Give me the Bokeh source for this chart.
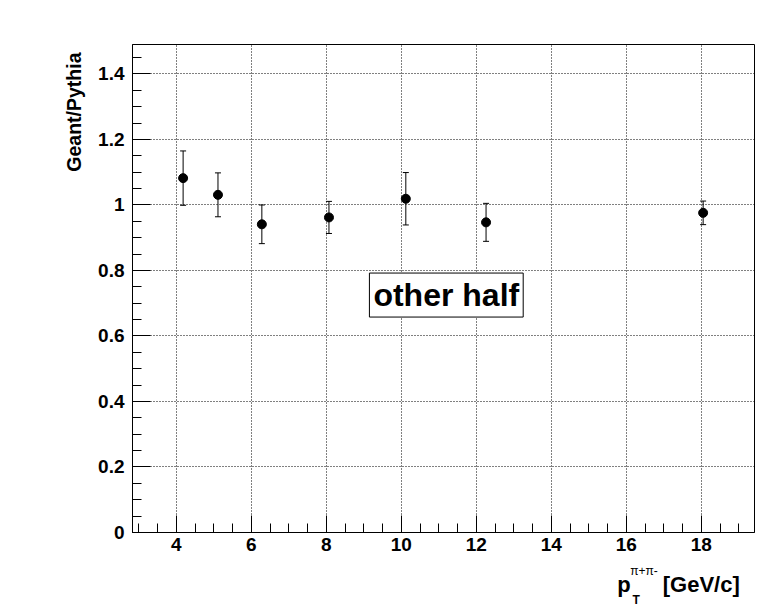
import numpy as np
from bokeh.plotting import figure
from bokeh.layouts import row, column
from bokeh.models import (Range1d, Label, Whisker, TeeHead, ColumnDataSource,
                          FixedTicker, PrintfTickFormatter)
from bokeh.core.properties import value
from bokeh.embed import file_html
from bokeh.resources import INLINE

# ---- data ----
pt = [4.18, 5.11, 6.28, 8.07, 10.12, 12.26, 18.05]
ratio = [1.082, 1.031, 0.941, 0.962, 1.019, 0.947, 0.976]
err = [0.083, 0.067, 0.059, 0.049, 0.080, 0.058, 0.036]

x_major = [4, 6, 8, 10, 12, 14, 16, 18]
y_major = [0, 0.2, 0.4, 0.6, 0.8, 1.0, 1.2, 1.4]

y_title = "Geant/Pythia"
x_title_main = "p"
x_title_sub = "T"
x_title_sup = "π+π-"
x_title_unit = "[GeV/c]"
box_text = "other half"

FONT = "Liberation Sans"

# ---- geometry (page pixels) ----
LEFT_W = 92
MAIN_W = 678
MAIN_H = 559
BOT_H = 47
TOTAL_H = MAIN_H + BOT_H

src = ColumnDataSource(dict(
    x=pt, y=ratio,
    lower=[r - e for r, e in zip(ratio, err)],
    upper=[r + e for r, e in zip(ratio, err)],
))

# ---- main plot ----
p = figure(frame_width=622, frame_height=488,
           min_border_left=132 - LEFT_W, min_border_right=16,
           min_border_top=44, min_border_bottom=MAIN_H - 44 - 488,
           x_range=Range1d(2.83, 19.42), y_range=Range1d(0, 1.49),
           output_backend="svg", toolbar_location=None)

p.background_fill_color = "white"
p.border_fill_color = "white"
p.outline_line_color = "black"
p.outline_line_width = 1

x_minor = list(np.arange(3.0, 19.01, 0.5))
y_minor = list(np.round(np.arange(0.0, 1.46, 0.05), 2))

p.xaxis.ticker = FixedTicker(ticks=x_major, minor_ticks=x_minor)
p.yaxis.ticker = FixedTicker(ticks=y_major, minor_ticks=y_minor)
p.yaxis.formatter = PrintfTickFormatter(format="%g")

for ax in (p.xaxis, p.yaxis):
    ax.axis_line_color = "black"
    ax.axis_line_width = 1
    ax.major_tick_line_color = "black"
    ax.minor_tick_line_color = "black"
    ax.major_tick_out = 0
    ax.minor_tick_out = 0
    ax.minor_tick_in = 9
    ax.major_label_text_font = FONT
    ax.major_label_text_font_style = "bold"
    ax.major_label_text_font_size = "19px"
    ax.major_label_text_color = "black"

p.xaxis.major_tick_in = 17
p.yaxis.major_tick_in = 18
p.xaxis.major_label_standoff = 5
p.yaxis.major_label_standoff = 8

for g in (p.xgrid, p.ygrid):
    g.grid_line_color = "black"
    g.grid_line_dash = "1 2"
    g.grid_line_width = 1
    g.grid_line_alpha = 1.0

wh = Whisker(base="x", lower="lower", upper="upper", source=src,
             line_color="black", line_width=1,
             upper_head=TeeHead(size=6, line_color="black", line_width=1),
             lower_head=TeeHead(size=6, line_color="black", line_width=1))
p.add_layout(wh)

p.scatter("x", "y", source=src, size=9, marker="circle",
          fill_color="black", line_color="black")

p.add_layout(Label(x=11.2, y=0.725, text=box_text,
                   text_font=FONT, text_font_style="bold",
                   text_font_size="32px", text_color="black",
                   text_align="center", text_baseline="middle",
                   border_line_color="black", border_line_width=1,
                   background_fill_color="white", padding=4))

# ---- left strip: y-axis title ----
left = figure(width=LEFT_W, height=TOTAL_H, min_border=0,
              x_range=Range1d(0, LEFT_W), y_range=Range1d(0, TOTAL_H),
              x_axis_location=None, y_axis_location=None,
              output_backend="svg", toolbar_location=None)
left.grid.visible = False
left.outline_line_color = None
left.text(x=[73], y=[TOTAL_H - 52], text=[y_title], angle=np.pi / 2,
          text_align="right", text_baseline="alphabetic",
          text_font=value(FONT), text_font_style="bold",
          text_font_size="19.5px", text_color="black")

# ---- bottom strip: x-axis title ----
bot = figure(width=MAIN_W, height=BOT_H, min_border=0,
             x_range=Range1d(LEFT_W, LEFT_W + MAIN_W), y_range=Range1d(0, BOT_H),
             x_axis_location=None, y_axis_location=None,
             output_backend="svg", toolbar_location=None)
bot.grid.visible = False
bot.outline_line_color = None


def by(yw):
    return TOTAL_H - yw


bot.text(x=[620.5], y=[by(583.5)], text=[x_title_main],
         text_align="left", text_baseline="alphabetic",
         text_font=value(FONT), text_font_style="bold",
         text_font_size="22px", text_color="black")
bot.text(x=[637], y=[by(599.5)], text=[x_title_sub],
         text_align="left", text_baseline="alphabetic",
         text_font=value(FONT), text_font_style="bold",
         text_font_size="12px", text_color="black")
bot.text(x=[634.5], y=[by(570.5)], text=[x_title_sup],
         text_align="left", text_baseline="alphabetic",
         text_font=value(FONT), text_font_style="normal",
         text_font_size="12px", text_color="black")
bot.text(x=[670], y=[by(583.5)], text=[x_title_unit],
         text_align="left", text_baseline="alphabetic",
         text_font=value(FONT), text_font_style="bold",
         text_font_size="22px", text_color="black")

layout = row(left, column(p, bot, spacing=0), spacing=0)

open("out.html", "w").write(file_html(layout, INLINE))
